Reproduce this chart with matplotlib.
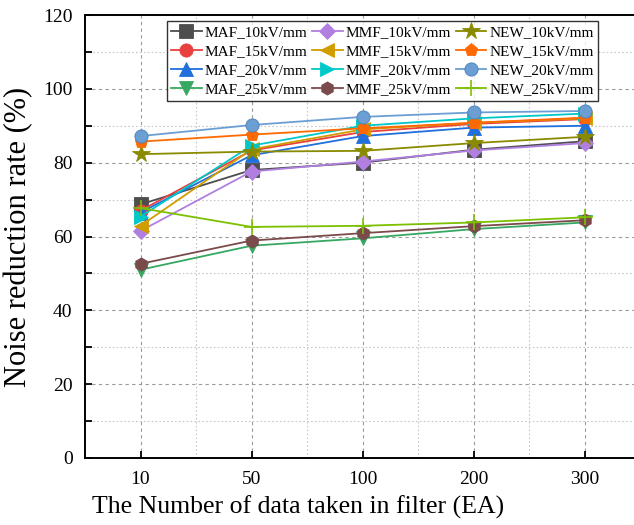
import matplotlib.pyplot as plt
import numpy as np
from matplotlib.ticker import MultipleLocator

plt.rcParams['font.family'] = ['Liberation Serif', 'DejaVu Serif']

filter_sizes = ['10', '50', '100', '200', '300']

maf_10 = [68.7, 78.0, 80.0, 83.5, 85.8]
maf_15 = [67.0, 83.3, 88.3, 90.5, 91.8]
maf_20 = [66.5, 82.0, 87.2, 89.5, 90.0]
maf_25 = [51.0, 57.5, 59.5, 62.0, 63.8]
mmf_10 = [61.5, 77.6, 80.3, 83.3, 85.3]
mmf_15 = [62.9, 83.6, 89.0, 90.8, 92.0]
mmf_20 = [65.4, 84.6, 90.0, 92.0, 93.3]
mmf_25 = [52.6, 58.9, 60.9, 62.8, 64.4]
new_10 = [82.3, 83.0, 83.2, 85.3, 87.0]
new_15 = [85.7, 87.6, 89.3, 90.8, 92.2]
new_20 = [87.2, 90.2, 92.4, 93.6, 94.0]
new_25 = [67.7, 62.6, 62.9, 63.8, 65.2]

series = [
    ('MAF_10kV/mm', maf_10, '#4d4d4d', 's'),
    ('MAF_15kV/mm', maf_15, '#e8403f', 'o'),
    ('MAF_20kV/mm', maf_20, '#1f6fdc', '^'),
    ('MAF_25kV/mm', maf_25, '#36a862', 'v'),
    ('MMF_10kV/mm', mmf_10, '#b07fe0', 'D'),
    ('MMF_15kV/mm', mmf_15, '#d19c00', '<'),
    ('MMF_20kV/mm', mmf_20, '#00c8c8', '>'),
    ('MMF_25kV/mm', mmf_25, '#7b4b4b', 'h'),
    ('NEW_10kV/mm', new_10, '#8a8a00', '*'),
    ('NEW_15kV/mm', new_15, '#ff6a00', 'p'),
    ('NEW_20kV/mm', new_20, '#6b9fd4', 'o'),
    ('NEW_25kV/mm', new_25, '#7cc000', '+'),
]

fig = plt.figure(figsize=(6.34, 5.25), dpi=100)
ax = fig.add_axes([85 / 634, 1 - 458 / 525, 555 / 634, 443 / 525])

x = np.arange(len(filter_sizes))
for label, vals, color, mk in series:
    ms = 9.5
    if mk == '*':
        ms = 13
    elif mk == 'D':
        ms = 8.5
    elif mk == '+':
        ms = 12
    edge = '#4a7fb8' if label.startswith('NEW_20') else color
    ax.plot(x, vals, color=color, marker=mk, markersize=ms, linewidth=1.3,
            markeredgecolor=edge, markeredgewidth=1.2 if mk == '+' else 0.6,
            label=label)

ax.set_xlim(-0.5, 4.5)
ax.set_ylim(0, 120)
ax.set_xticks(x)
ax.set_xticklabels(filter_sizes)
ax.set_xticks(x[:-1] + 0.5, minor=True)
ax.yaxis.set_major_locator(MultipleLocator(20))
ax.yaxis.set_minor_locator(MultipleLocator(10))

ax.grid(which='major', color='#9a9a9a', linestyle=(0, (3, 3)), linewidth=0.8)
ax.grid(which='minor', color='#c8c8c8', linestyle=(0, (1.5, 2)), linewidth=0.8)
ax.set_axisbelow(True)

ax.tick_params(which='major', direction='in', length=5, width=1.3, labelsize=14, pad=9)
ax.tick_params(axis='y', which='minor', direction='in', length=5, width=1.3)
ax.tick_params(axis='x', which='minor', length=0)
ax.tick_params(axis='y', which='major', pad=9)
for s in ax.spines.values():
    s.set_linewidth(1.4)

ax.set_xlabel('The Number of data taken in filter (EA)', fontsize=18.5)
ax.xaxis.set_label_coords(213 / 555, -0.085)
ax.set_ylabel('Noise reduction rate (%)', fontsize=22)
ax.yaxis.set_label_coords(-52 / 555, 0.5)

leg = ax.legend(ncol=3, loc='upper left', bbox_to_anchor=(0.147, 0.987),
                fontsize=11, frameon=True, fancybox=False, edgecolor='black',
                handlelength=2.0, handletextpad=0.2, columnspacing=0.3,
                labelspacing=0.36, borderpad=0.3, borderaxespad=0)
leg.get_frame().set_linewidth(1.0)

fig.savefig('out.png', dpi=100)
